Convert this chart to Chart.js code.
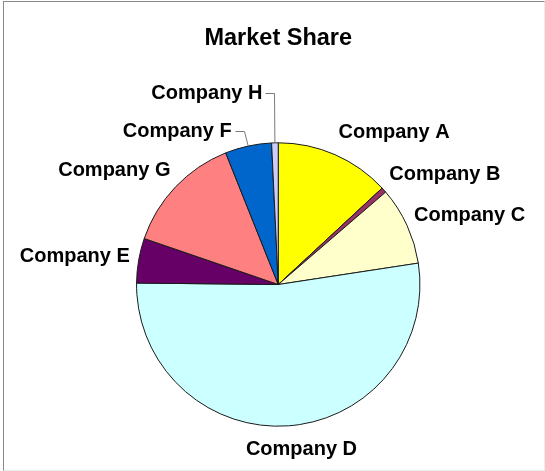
<!DOCTYPE html>
<html>
<head>
<meta charset="utf-8">
<script src="https://cdn.jsdelivr.net/npm/chart.js@4/dist/chart.umd.min.js"></script>
<style>
  html, body { margin: 0; padding: 0; background: #fff; }
  #wrap { position: relative; width: 545px; height: 471px; }
  #frame { position: absolute; left: 3px; top: 1px; width: 540px; height: 468px;
           border-left: 1px solid #8a8a8a; border-top: 1px solid #8a8a8a;
           border-right: 1px solid #ececec; border-bottom: 1px solid #ececec; }
  canvas { position: absolute; left: 0; top: 0; }
</style>
</head>
<body>
<div id="wrap">
  <div id="frame"></div>
  <canvas id="share-chart" width="545" height="471"></canvas>
</div>
<script>
/* Market Share pie (Excel style) */
const companies = ['Company A', 'Company B', 'Company C', 'Company D', 'Company E', 'Company G', 'Company F', 'Company H'];
const shares = [13.1, 0.6, 8.9, 52.6, 5.1, 13.7, 5.3, 0.75];
const sliceColors = ['#ffff00', '#993366', '#ffffcc', '#ccffff', '#660066', '#ff8080', '#0066cc', '#ccccff'];

const FONT = '"Liberation Sans", Arial, sans-serif';

// Labels outside the pie, two of them dragged away with a leader line
const outsideLabels = {
  id: 'outsideLabels',
  afterDatasetsDraw(chart, args, opts) {
    const ctx = chart.ctx;
    const meta = chart.getDatasetMeta(0);
    ctx.save();
    ctx.font = opts.font;
    ctx.fillStyle = '#000';
    ctx.textAlign = 'center';
    ctx.textBaseline = 'middle';
    meta.data.forEach((arc, i) => {
      const { x, y, startAngle, endAngle, outerRadius } = arc.getProps(['x', 'y', 'startAngle', 'endAngle', 'outerRadius'], true);
      const mid = (startAngle + endAngle) / 2;
      const px = x + Math.cos(mid) * outerRadius;
      const py = y + Math.sin(mid) * outerRadius;
      const text = chart.data.labels[i];
      const w = ctx.measureText(text).width;
      const moved = opts.moved[text];
      let lx, ly;
      if (moved) {
        lx = px + moved[0];
        ly = py + moved[1];
        const sx = Math.round(lx + w / 2 + 3) + 0.5;
        const ry = Math.round(ly) + 0.5;
        ctx.beginPath();
        ctx.strokeStyle = '#7a7a7a';
        ctx.lineWidth = 1;
        ctx.moveTo(sx, ry);
        ctx.lineTo(sx + 9, ry);
        ctx.lineTo(px, py);
        ctx.stroke();
      } else {
        const k = Math.max(-1, Math.min(1, Math.cos(mid) * 3.2));
        const gap = 3 + 7 * (1 - Math.abs(Math.sin(mid)));
        lx = px + k * (w / 2 + gap);
        ly = py + Math.sin(mid) * 24 - 1;
      }
      ctx.fillText(text, lx, ly + 1);
    });
    ctx.restore();
  }
};

new Chart(document.getElementById('share-chart'), {
  type: 'pie',
  data: {
    labels: companies,
    datasets: [{
      data: shares,
      backgroundColor: sliceColors,
      borderColor: '#1a1a1a',
      borderWidth: 1,
    }]
  },
  options: {
    responsive: false, animation: false, devicePixelRatio: 1,
    layout: { padding: { left: 136, right: 124.5, top: 20, bottom: 44.3 } },
    plugins: {
      legend: { display: false },
      tooltip: { enabled: false },
      title: {
        display: true, text: 'Market Share', color: '#000',
        font: { family: FONT, size: 23.5, weight: 'bold' },
        padding: { top: 4, bottom: 90.1 }
      },
      outsideLabels: {
        font: 'bold 20px ' + FONT,
        moved: { 'Company F': [-71, -15.5], 'Company H': [-68, -50] }
      }
    }
  },
  plugins: [outsideLabels]
});
</script>
</body>
</html>
